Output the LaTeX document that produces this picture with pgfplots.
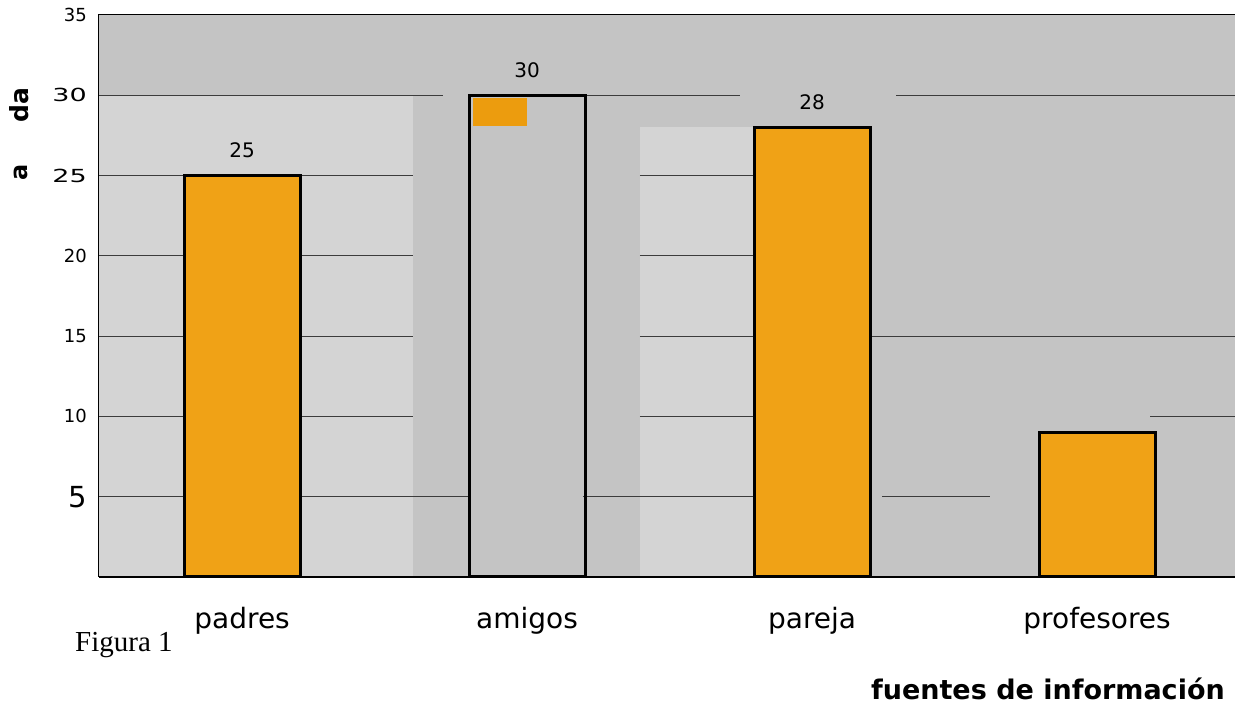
\documentclass[border=0pt]{standalone}
\usepackage{graphicx}
\usepackage{fontspec}
\setmainfont{DejaVu Sans}
\newfontfamily\timesfont{Liberation Serif}
\usepackage{pgfplots}
\pgfplotsset{compat=1.18}
\definecolor{fondo}{RGB}{196,196,196}
\definecolor{textura}{RGB}{212,212,212}
\definecolor{naranja}{RGB}{240,162,22}
\definecolor{parche}{RGB}{236,156,14}
\definecolor{rejilla}{RGB}{60,60,60}
\newcommand\fs[2]{{\fontsize{#1}{#1}\selectfont #2}}
\newcommand\fw[2]{\scalebox{1.5}[1]{\fontsize{#1}{#1}\selectfont #2}}

\begin{document}
\begin{tikzpicture}
\begin{axis}[
  name=ax,
  scale only axis,
  width=1136pt, height=562pt,
  xmin=-0.502, xmax=3.484,
  ymin=0, ymax=35,
  clip=false,
  axis background/.style={fill=fondo},
  axis line style={draw=none},
  major tick length=0pt,
  xtick={0,1,2,3},
  xticklabels={padres,amigos,pareja,profesores},
  xticklabel style={font=\fontsize{28}{28}\selectfont, inner sep=0pt, anchor=north, yshift=-30pt},
  ytick={5,10,...,35},
  yticklabels={\fs{29}{5},\fs{18}{10},\fs{18}{15},\fs{18}{20},\fw{18}{25},\fw{18}{30},\fs{18}{35}},
  yticklabel style={inner sep=0pt, anchor=east, xshift=-12pt},
  /pgf/number format/assume math mode=true,
  every axis plot/.append style={ybar, bar width=116pt, bar shift=0pt, draw=black, line width=3pt},
  nodes near coords style={text=black, font=\fontsize{20}{20}\selectfont, anchor=south, inner sep=0pt, yshift=16pt},
]
% zonas claras de fondo
\fill[textura] (axis cs:-0.502,0) rectangle (axis cs:0.6,30);
\fill[textura] (axis cs:1.396,0) rectangle (axis cs:2.0,28);
% lineas de rejilla (cortadas como en el original)
\pgfplotsinvokeforeach{5,10,15,20,25,30}{
  \draw[rejilla, line width=0.8pt] (axis cs:-0.502,#1) -- (axis cs:0.6,#1);
}
\pgfplotsinvokeforeach{5,10,15,20,25}{
  \draw[rejilla, line width=0.8pt] (axis cs:1.396,#1) -- (axis cs:1.804,#1);
}
\draw[rejilla, line width=0.8pt] (axis cs:0.6,30) -- (axis cs:0.705,30);
\draw[rejilla, line width=0.8pt] (axis cs:1.196,30) -- (axis cs:1.747,30);
\draw[rejilla, line width=0.8pt] (axis cs:2.295,30) -- (axis cs:3.484,30);
\draw[rejilla, line width=0.8pt] (axis cs:2.21,15) -- (axis cs:3.484,15);
\draw[rejilla, line width=0.8pt] (axis cs:3.186,10) -- (axis cs:3.484,10);
\draw[rejilla, line width=0.8pt] (axis cs:0.6,5) -- (axis cs:0.804,5);
\draw[rejilla, line width=0.8pt] (axis cs:1.196,5) -- (axis cs:1.396,5);
\draw[rejilla, line width=0.8pt] (axis cs:2.246,5) -- (axis cs:2.625,5);

\addplot[fill=naranja, nodes near coords] coordinates {(0,25)};
\addplot[fill=none, nodes near coords] coordinates {(1,30)};
\addplot[fill=naranja, nodes near coords] coordinates {(2,28)};
\addplot[fill=naranja] coordinates {(3,9)};

\fill[parche] (axis cs:0.81,28.1) rectangle (axis cs:1.0,29.8);

% marco
\draw[black, line width=1pt] (rel axis cs:0,0) -- (rel axis cs:0,1) -- (rel axis cs:1,1);
\draw[black, line width=2pt] (rel axis cs:0,0) -- (rel axis cs:1,0);
\end{axis}

\node[rotate=90, font=\bfseries\fontsize{24}{24}\selectfont, inner sep=0pt] at ([xshift=-78pt,yshift=405pt]ax.south west) {a};
\node[rotate=90, font=\bfseries\fontsize{25}{25}\selectfont, inner sep=0pt] at ([xshift=-80pt,yshift=472pt]ax.south west) {da};
\node[anchor=base west, inner sep=0pt, font=\timesfont\fontsize{29}{29}\selectfont] at ([xshift=-24pt,yshift=-75pt]ax.south west) {Figura 1};
\node[anchor=base east, inner sep=0pt, font=\bfseries\fontsize{27}{27}\selectfont] at ([xshift=1126pt,yshift=-123pt]ax.south west) {fuentes de información};

\pgfresetboundingbox
\path[use as bounding box] ([xshift=-99pt,yshift=-133pt]ax.south west) rectangle ([yshift=15pt]ax.north east);
\end{tikzpicture}
\end{document}
